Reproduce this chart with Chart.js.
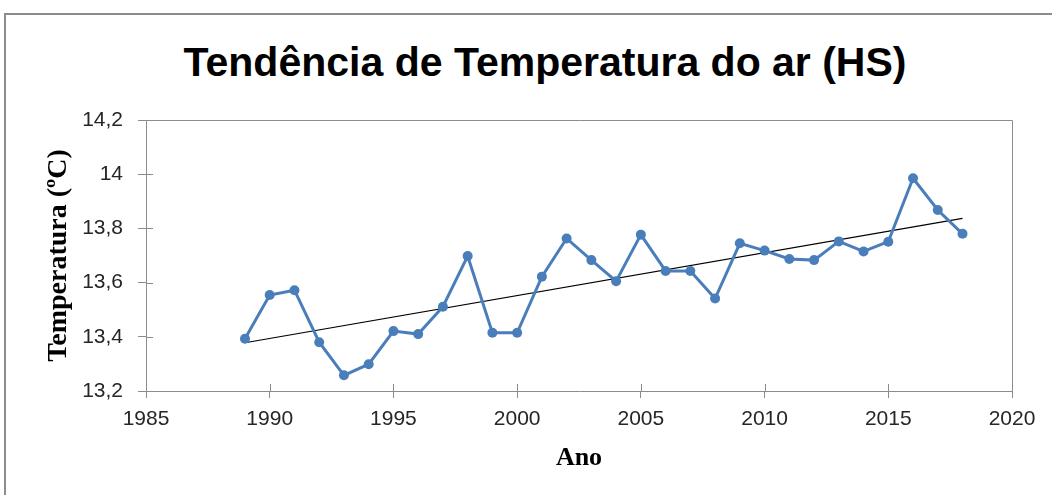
<!DOCTYPE html>
<html>
<head>
<meta charset="utf-8">
<script src="https://cdn.jsdelivr.net/npm/chart.js@4"></script>
<style>
  body { margin: 0; background: #fff; }
  #caixa { position: relative; width: 1052px; height: 495px; overflow: hidden; }
  #borda { position: absolute; left: 4px; top: 13px; width: 1200px; height: 600px; border: 2px solid #8c8c8c; }
  #titulo { position: absolute; left: 0; width: 1090px; top: 42px; text-align: center;
    font: bold 41px "Liberation Sans", Arial, sans-serif; line-height: 41px; color: #000; white-space: nowrap; }
  #grafico { position: absolute; left: 0; top: 0; }
</style>
</head>
<body>
<div id="caixa">
  <div id="borda"></div>
  <div id="titulo">Tendência de Temperatura do ar (HS)</div>
  <canvas id="grafico" width="1052" height="495"></canvas>
</div>
<script>
// dados
const anos = [1989, 1990, 1991, 1992, 1993, 1994, 1995, 1996, 1997, 1998,
  1999, 2000, 2001, 2002, 2003, 2004, 2005, 2006, 2007, 2008,
  2009, 2010, 2011, 2012, 2013, 2014, 2015, 2016, 2017, 2018]
const temperaturas = [13.393, 13.554, 13.572, 13.380, 13.258, 13.299, 13.421, 13.410, 13.511, 13.698,
  13.415, 13.415, 13.622, 13.763, 13.683, 13.605, 13.777, 13.643, 13.643, 13.541,
  13.745, 13.718, 13.687, 13.683, 13.752, 13.715, 13.751, 13.985, 13.868, 13.780]
// linha de tendencia (extremos)
const anosTendencia = [1989, 2018]
const valoresTendencia = [13.378, 13.837]
const ticksAno = [1985, 1990, 1995, 2000, 2005, 2010, 2015, 2020]
const ticksTemp = [13.2, 13.4, 13.6, 13.8, 14, 14.2]

const cinza = '#8c8c8c'
const azul = '#4a7ebb'

const pontos = anos.map((a, i) => ({ x: a, y: temperaturas[i] }))
const tendencia = anosTendencia.map((a, i) => ({ x: a, y: valoresTendencia[i] }))

// moldura do plot (topo e direita) + parte interna das marcas
const marcoPlugin = {
  id: 'marco',
  beforeDatasetsDraw(chart) {
    const { ctx, chartArea: a, scales } = chart
    ctx.save()
    ctx.strokeStyle = cinza
    ctx.lineWidth = 1
    ctx.beginPath()
    ctx.moveTo(a.left, Math.round(a.top) + 0.5)
    ctx.lineTo(Math.round(a.right) + 0.5, Math.round(a.top) + 0.5)
    ctx.lineTo(Math.round(a.right) + 0.5, a.bottom)
    scales.x.ticks.forEach((t, i) => {
      const px = Math.round(scales.x.getPixelForTick(i)) + 0.5
      ctx.moveTo(px, a.bottom)
      ctx.lineTo(px, a.bottom - 7)
    })
    scales.y.ticks.forEach((t, i) => {
      const py = Math.round(scales.y.getPixelForTick(i)) + 0.5
      ctx.moveTo(a.left, py)
      ctx.lineTo(a.left + 7, py)
    })
    ctx.stroke()
    ctx.restore()
  }
}

const config = {
  type: 'scatter',
  data: {
    datasets: [
      {
        label: 'Temperatura',
        data: pontos,
        showLine: true,
        borderColor: azul,
        backgroundColor: azul,
        borderWidth: 3,
        pointRadius: 5,
        pointBorderWidth: 0,
        pointBackgroundColor: azul
      },
      {
        label: 'Tendência',
        data: tendencia,
        showLine: true,
        borderColor: '#000',
        borderWidth: 1.2,
        pointRadius: 0
      }
    ]
  },
  options: {
    responsive: false,
    animation: false,
    layout: { padding: { left: 0, right: 40, top: 120, bottom: 0 } },
    plugins: { legend: { display: false }, tooltip: { enabled: false } },
    scales: {
      x: {
        type: 'linear',
        min: 1985,
        max: 2020,
        afterBuildTicks: (s) => { s.ticks = ticksAno.map(v => ({ value: v })) },
        afterFit: (s) => { s.height = 104 },
        ticks: {
          padding: 9,
          color: '#262626',
          font: { family: '"Liberation Sans", Arial', size: 21 },
          callback: (v) => String(v)
        },
        grid: { drawOnChartArea: false, drawTicks: true, tickLength: 7, color: cinza },
        border: { display: true, color: cinza },
        title: {
          display: true,
          text: 'Ano',
          color: '#000',
          font: { family: '"Liberation Serif", "Times New Roman", serif', size: 26, weight: 'bold' },
          padding: { top: 0, bottom: 21 }
        }
      },
      y: {
        type: 'linear',
        min: 13.2,
        max: 14.2,
        afterBuildTicks: (s) => { s.ticks = ticksTemp.map(v => ({ value: v })) },
        afterFit: (s) => { s.width = 146 },
        ticks: {
          padding: 15,
          color: '#262626',
          font: { family: '"Liberation Sans", Arial', size: 21 },
          callback: (v) => String(Number(v.toFixed(1))).replace('.', ',')
        },
        grid: { drawOnChartArea: false, drawTicks: true, tickLength: 8, color: cinza },
        border: { display: true, color: cinza },
        title: {
          display: true,
          text: 'Temperatura (ºC)',
          color: '#000',
          font: { family: '"Liberation Serif", "Times New Roman", serif', size: 28, weight: 'bold' },
          padding: { top: 42, bottom: 0 }
        }
      }
    }
  },
  plugins: [marcoPlugin]
}

const chart = new Chart(document.getElementById('grafico'), config)
</script>
</body>
</html>
